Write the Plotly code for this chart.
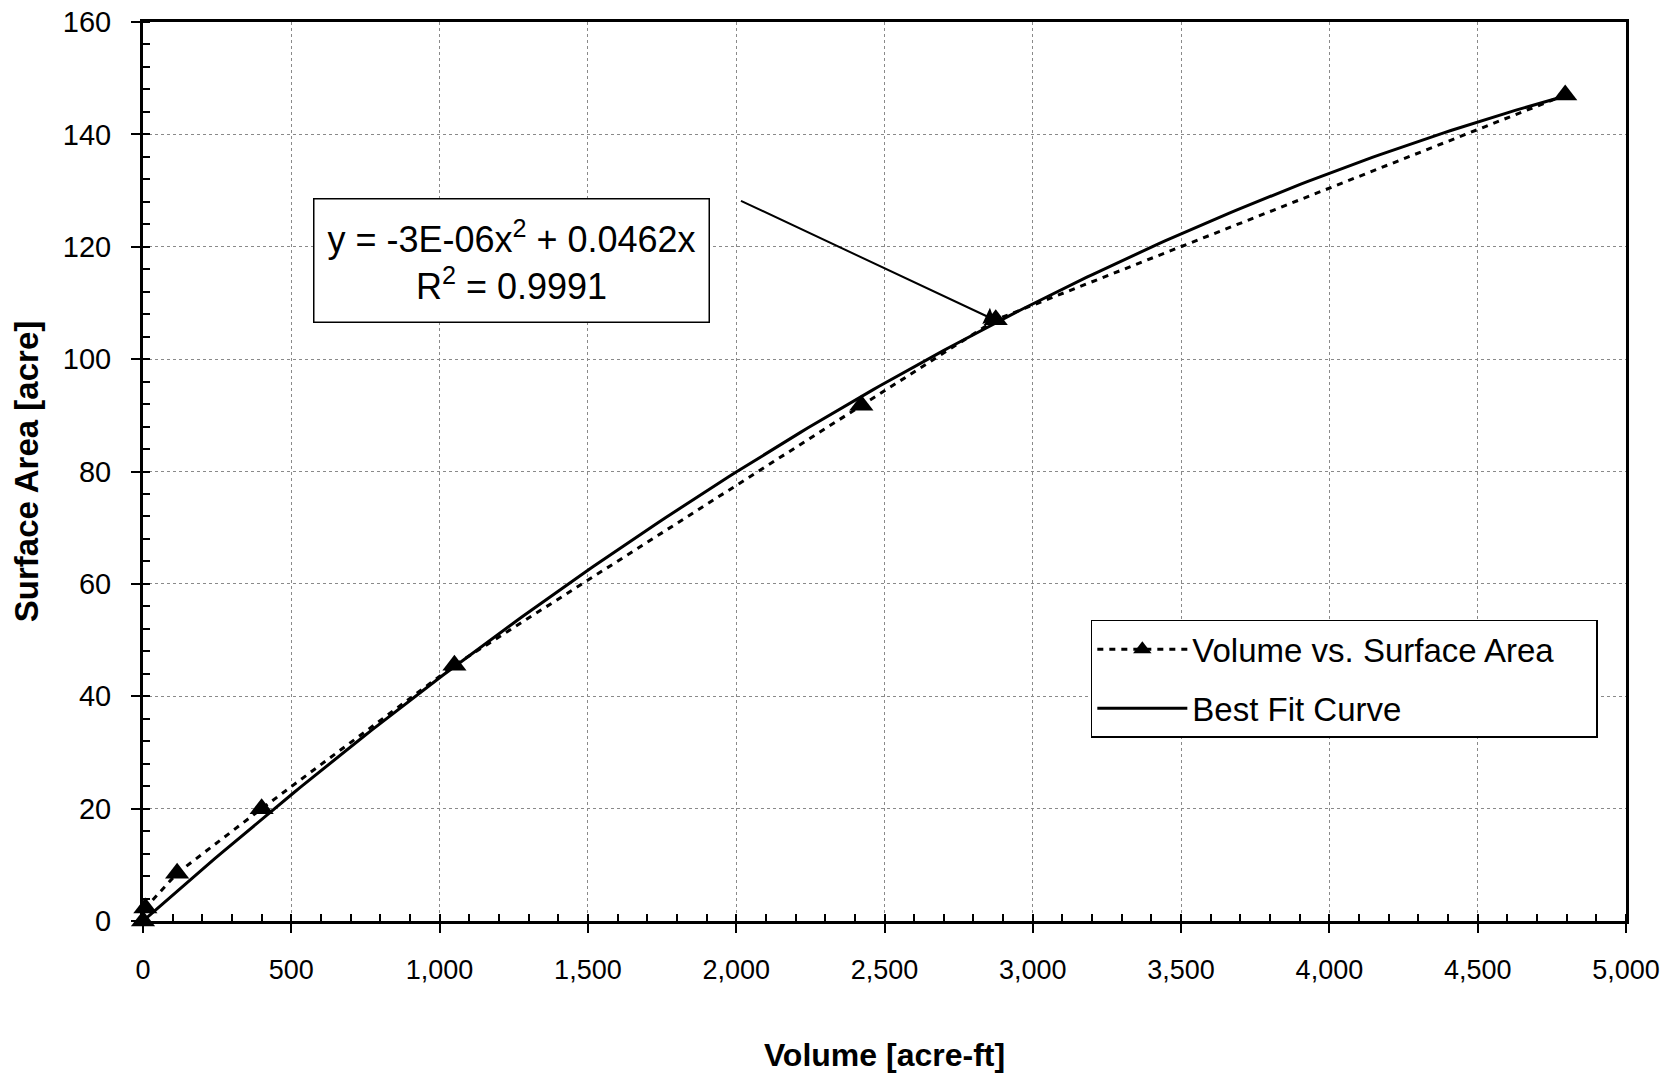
import numpy as np
import plotly.graph_objects as go

volume_acre_ft = [0, 8, 115, 400, 1050, 2422, 2875, 4795]
surface_area_acre = [0, 2.3, 8.5, 20, 45.5, 91.8, 107, 147]

x_tick_vals = [0, 500, 1000, 1500, 2000, 2500, 3000, 3500, 4000, 4500, 5000]
y_tick_vals = [0, 20, 40, 60, 80, 100, 120, 140, 160]

series_names = ["Volume vs. Surface Area", "Best Fit Curve"]
equation_text = "y = -3E-06x<sup>2</sup> + 0.0462x<br>R<sup>2</sup> = 0.9991"

# Least-squares quadratic trendline through the origin (as the spreadsheet did)
xv = np.array(volume_acre_ft, dtype=float)
yv = np.array(surface_area_acre, dtype=float)
A = np.column_stack([xv**2, xv])
coef, *_ = np.linalg.lstsq(A, yv, rcond=None)
fit_x = np.linspace(0, xv.max(), 200)
fit_y = coef[0] * fit_x**2 + coef[1] * fit_x

FONT = "Liberation Sans, Arial, sans-serif"
PAD = "\u00a0" * 4  # right padding inside the legend box

fig = go.Figure()
fig.add_trace(go.Scatter(
    x=volume_acre_ft, y=surface_area_acre, mode="lines+markers",
    name=series_names[0] + PAD,
    line=dict(color="black", width=3, dash="6px,6px"),
    marker=dict(symbol="triangle-up", size=21, color="black"),
    cliponaxis=False, legendgroup="a",
))
fig.add_trace(go.Scatter(
    x=fit_x, y=fit_y, mode="lines", name=series_names[1],
    line=dict(color="black", width=3), legendgroup="b",
))

fig.update_layout(
    width=1674, height=1073,
    margin=dict(l=143, r=48, t=22, b=152, autoexpand=False),
    paper_bgcolor="white", plot_bgcolor="white",
    font=dict(family=FONT, size=28, color="black"),
    showlegend=True,
    legend=dict(
        x=0.981, y=0.335, xanchor="right", yanchor="top",
        bordercolor="black", borderwidth=1.5, bgcolor="white",
        font=dict(size=33, family=FONT), tracegroupgap=13,
        traceorder="grouped", itemwidth=90,
    ),
    xaxis=dict(
        range=[0, 5000], tickvals=x_tick_vals, tickformat=",d",
        automargin=False,
        showline=True, linecolor="black", linewidth=2.5, mirror=True,
        ticks="outside", ticklen=9, tickwidth=2, tickcolor="black",
        ticklabelstandoff=14,
        showgrid=True, gridcolor="#8a8a8a", gridwidth=1, griddash="dot",
        zeroline=False,
        minor=dict(dtick=100, ticks="inside", ticklen=7, tickwidth=1.5,
                   tickcolor="black", showgrid=False),
        tickfont=dict(size=27),
        title=dict(text="<b>Volume [acre-ft]</b>", font=dict(size=32), standoff=62),
    ),
    yaxis=dict(
        range=[0, 160], tickvals=y_tick_vals,
        automargin=False,
        showline=True, linecolor="black", linewidth=3, mirror=True,
        ticks="outside", ticklen=9, tickwidth=2, tickcolor="black",
        ticklabelstandoff=14,
        showgrid=True, gridcolor="#8a8a8a", gridwidth=1, griddash="dot",
        zeroline=False,
        minor=dict(dtick=4, ticks="inside", ticklen=7, tickwidth=1.5,
                   tickcolor="black", showgrid=False),
        tickfont=dict(size=29),
        title=dict(text="<b>Surface Area [acre]</b>", font=dict(size=33), standoff=15),
    ),
)

# Equation box
fig.add_annotation(
    x=1242, y=117.5, xref="x", yref="y", xanchor="center", yanchor="middle",
    text=equation_text, showarrow=False, align="center",
    font=dict(size=36, family=FONT, color="black"),
    bordercolor="black", borderwidth=1.5, bgcolor="white",
    width=390, height=118, borderpad=2,
)
# Arrow pointing at the fitted curve
fig.add_annotation(
    x=2870, y=107, xref="x", yref="y",
    ax=2011, ay=128.3, axref="x", ayref="y",
    text="", showarrow=True, arrowhead=1, arrowsize=1.5, arrowwidth=2,
    arrowcolor="black", standoff=0,
)

fig.write_html("out.html", config={"displayModeBar": False},
               post_script="document.body.style.margin='0';")
